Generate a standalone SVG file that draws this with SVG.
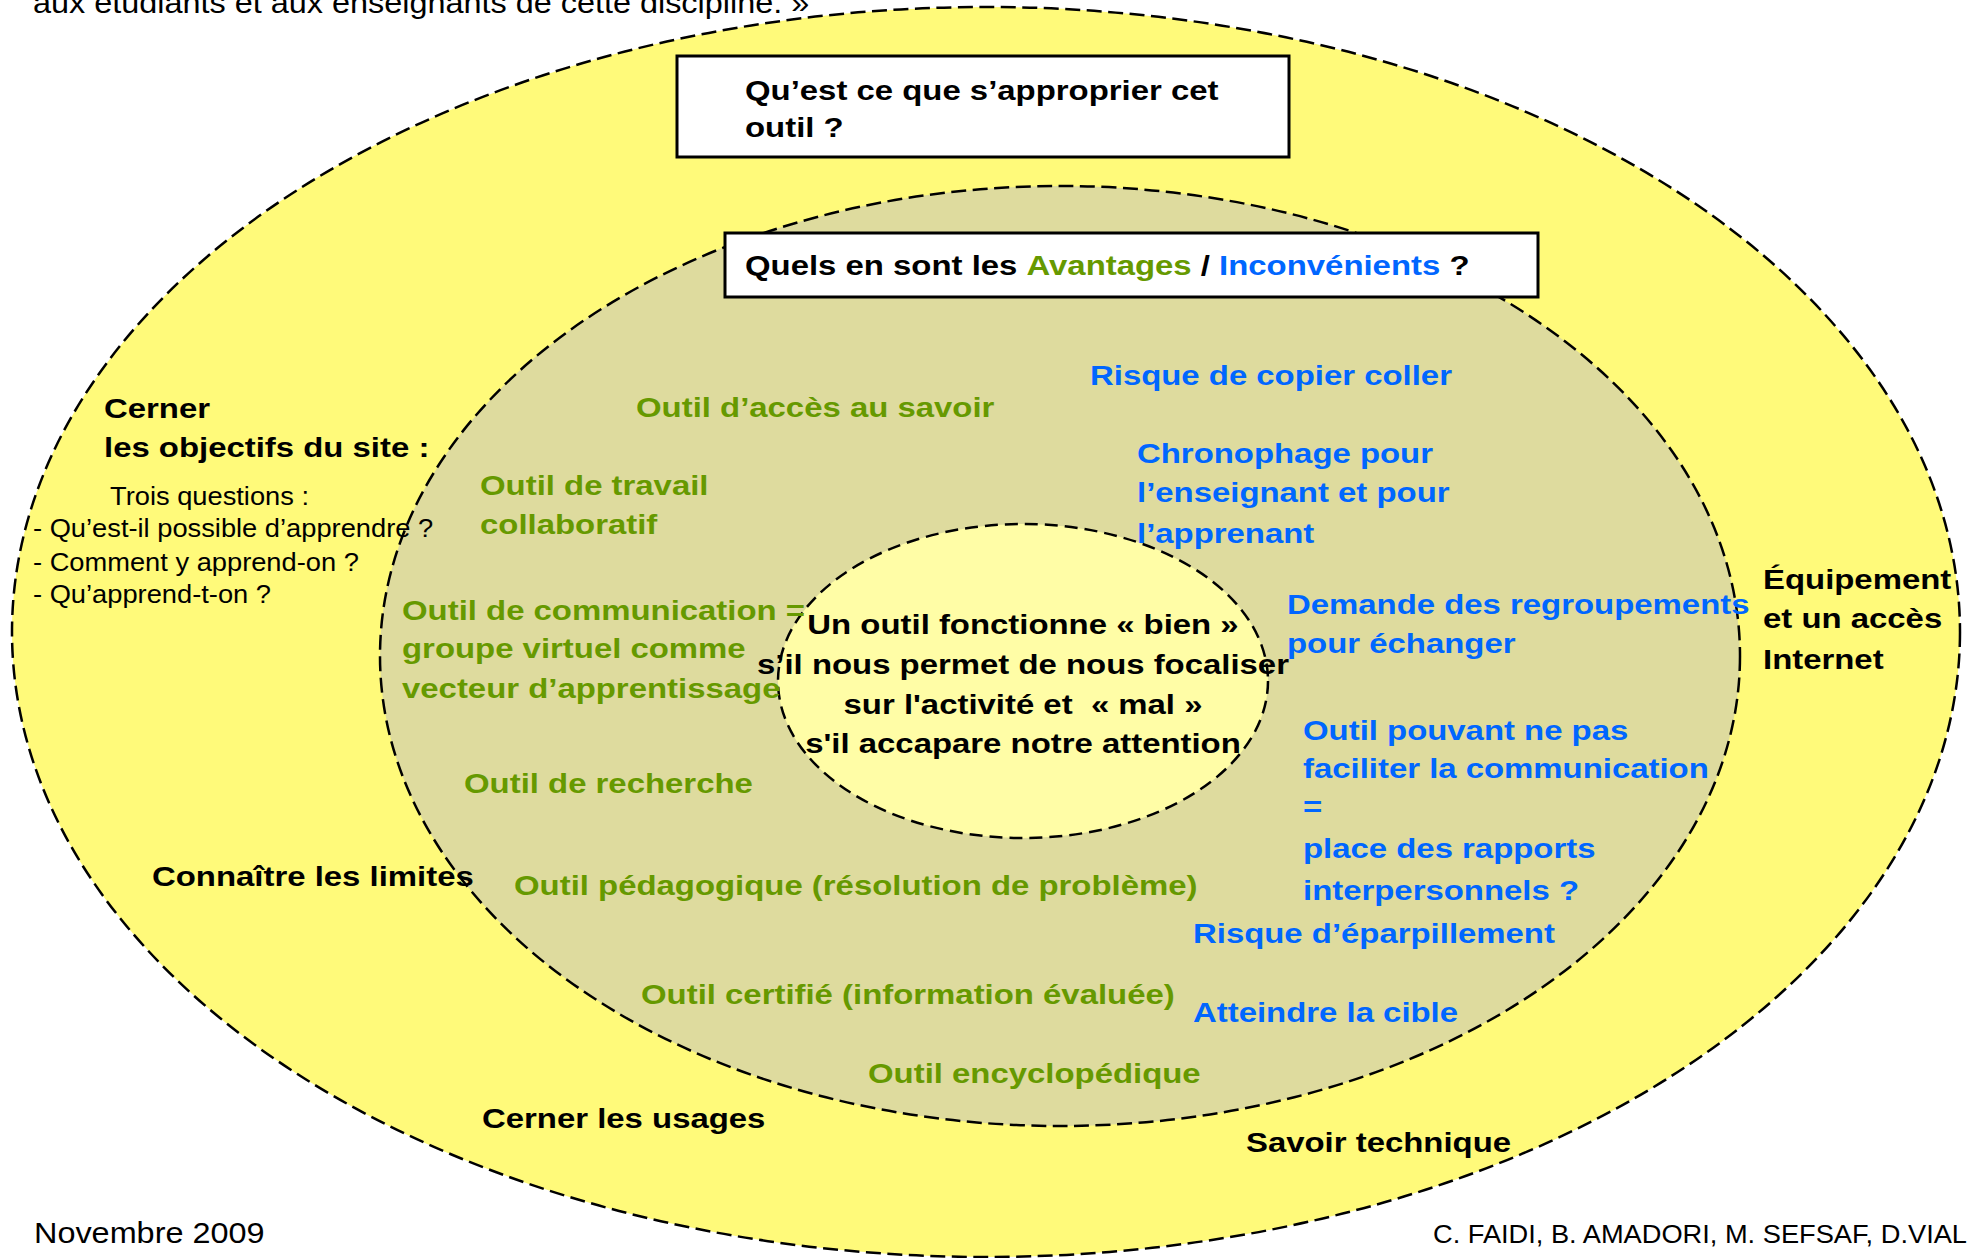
<svg xmlns="http://www.w3.org/2000/svg" width="1973" height="1258" viewBox="0 0 1973 1258">
<style>
.ring{stroke:#000;stroke-width:2.5;stroke-dasharray:15 6.5}
.box{fill:#fff;stroke:#000;stroke-width:3}
.b{font-family:"Liberation Sans",Arial,Helvetica,sans-serif;font-weight:bold;font-size:28.5px}
.r{font-family:"Liberation Sans",Arial,Helvetica,sans-serif;font-weight:normal}
.g{fill:#669900}
.bl{fill:#0066FF}
.k{fill:#000}
</style>
<rect width="1973" height="1258" fill="#fff"/>
<g id="outer-ring">
<ellipse class="ring" cx="986" cy="632" rx="974" ry="625" fill="#FFFA7A"/>
</g>
<g id="box-appropriation">
<rect class="box" x="677" y="56" width="612" height="101"/>
<text class="b k" transform="translate(745,100) scale(1.155,1)"><tspan x="0" y="0">Qu’est ce que s’approprier cet</tspan><tspan x="0" y="37">outil ?</tspan></text>
</g>
<g id="middle-ring">
<ellipse class="ring" cx="1060" cy="656" rx="680" ry="470" fill="#DEDB9E"/>
</g>
<g id="box-avantages">
<rect class="box" x="725" y="233" width="813" height="64"/>
<text class="b k" transform="translate(745,275) scale(1.155,1)">Quels en sont les <tspan class="g">Avantages</tspan> / <tspan class="bl">Inconvénients</tspan> ?</text>
</g>
<g id="inner-ring">
<ellipse class="ring" cx="1023" cy="681" rx="245" ry="157" fill="#FFFDA6" style="stroke-dasharray:13 7"/>
</g>
<g id="inner-text">
<text class="b k" text-anchor="middle" xml:space="preserve" transform="translate(1023,634) scale(1.155,1)"><tspan x="0" y="0">Un outil fonctionne « bien »</tspan><tspan x="0" y="40">s’il nous permet de nous focaliser</tspan><tspan x="0" y="80">sur l'activité et  « mal »</tspan><tspan x="0" y="119">s'il accapare notre attention</tspan></text>
</g>
<g id="objectifs">
<text class="b k" transform="translate(104,418) scale(1.155,1)"><tspan x="0" y="0">Cerner</tspan><tspan x="0" y="39">les objectifs du site :</tspan></text>
<text class="r k" font-size="25.5" transform="translate(110,505) scale(1.07,1)">Trois questions :</text>
<text class="r k" font-size="25.5" transform="translate(33,537) scale(1.07,1)"><tspan x="0" y="0">- Qu’est-il possible d’apprendre ?</tspan><tspan x="0" y="34">- Comment y apprend-on ?</tspan><tspan x="0" y="66">- Qu’apprend-t-on ?</tspan></text>
</g>
<g id="outer-labels">
<text class="b k" transform="translate(152,886) scale(1.155,1)">Connaître les limites</text>
<text class="b k" transform="translate(482,1128) scale(1.155,1)">Cerner les usages</text>
<text class="b k" transform="translate(1246,1152) scale(1.155,1)">Savoir technique</text>
<text class="b k" transform="translate(1763,589) scale(1.155,1)"><tspan x="0" y="0">Équipement</tspan><tspan x="0" y="39">et un accès</tspan><tspan x="0" y="80">Internet</tspan></text>
</g>
<g id="avantages">
<text class="b g" transform="translate(636,417) scale(1.155,1)">Outil d’accès au savoir</text>
<text class="b g" transform="translate(480,495) scale(1.155,1)"><tspan x="0" y="0">Outil de travail</tspan><tspan x="0" y="39">collaboratif</tspan></text>
<text class="b g" transform="translate(402,620) scale(1.155,1)"><tspan x="0" y="0">Outil de communication =</tspan><tspan x="0" y="38">groupe virtuel comme</tspan><tspan x="0" y="78">vecteur d’apprentissage</tspan></text>
<text class="b g" transform="translate(464,793) scale(1.155,1)">Outil de recherche</text>
<text class="b g" transform="translate(514,895) scale(1.155,1)">Outil pédagogique (résolution de problème)</text>
<text class="b g" transform="translate(641,1004) scale(1.155,1)">Outil certifié (information évaluée)</text>
<text class="b g" transform="translate(868,1083) scale(1.155,1)">Outil encyclopédique</text>
</g>
<g id="inconvenients">
<text class="b bl" transform="translate(1090,385) scale(1.155,1)">Risque de copier coller</text>
<text class="b bl" transform="translate(1137,463) scale(1.155,1)"><tspan x="0" y="0">Chronophage pour</tspan><tspan x="0" y="39">l’enseignant et pour</tspan><tspan x="0" y="80">l’apprenant</tspan></text>
<text class="b bl" transform="translate(1287,614) scale(1.155,1)"><tspan x="0" y="0">Demande des regroupements</tspan><tspan x="0" y="39">pour échanger</tspan></text>
<text class="b bl" transform="translate(1303,740) scale(1.155,1)"><tspan x="0" y="0">Outil pouvant ne pas</tspan><tspan x="0" y="38">faciliter la communication</tspan><tspan x="0" y="76">=</tspan><tspan x="0" y="118">place des rapports</tspan><tspan x="0" y="160">interpersonnels ?</tspan></text>
<text class="b bl" transform="translate(1193,943) scale(1.155,1)">Risque d’éparpillement</text>
<text class="b bl" transform="translate(1193,1022) scale(1.155,1)">Atteindre la cible</text>
</g>
<g id="connectors"></g>
<g id="page-text">
<text class="r k" font-size="30" transform="translate(33,13) scale(1.08,1)">aux étudiants et aux enseignants de cette discipline. »</text>
<text class="r k" font-size="30" transform="translate(34,1243) scale(1.08,1)">Novembre 2009</text>
<text class="r k" font-size="25" text-anchor="end" transform="translate(1967,1243) scale(1.09,1)">C. FAIDI, B. AMADORI, M. SEFSAF, D.VIAL</text>
</g>
</svg>
